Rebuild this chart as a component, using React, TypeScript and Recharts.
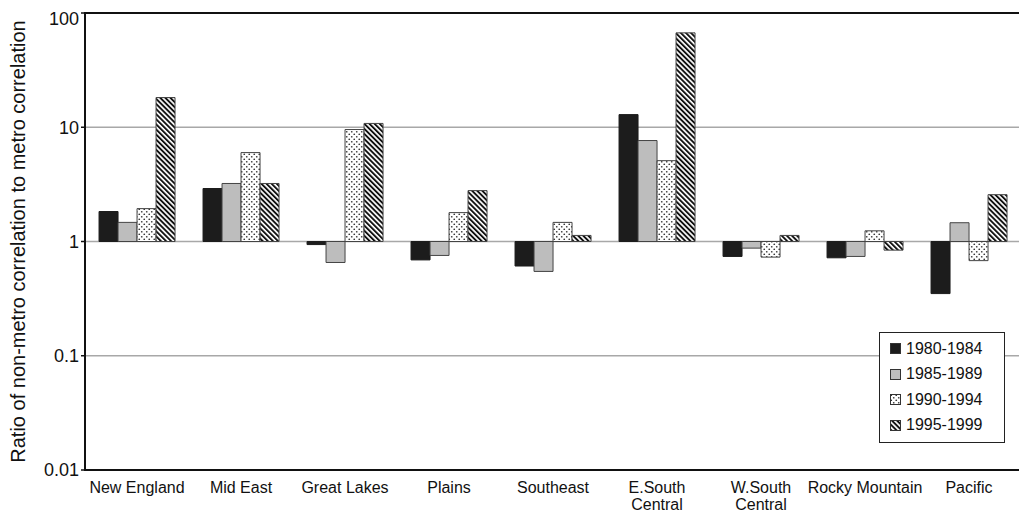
import React from "react";
import { BarChart, Bar, XAxis, YAxis, CartesianGrid, Legend } from "recharts";

const categories = [
  "New England",
  "Mid East",
  "Great Lakes",
  "Plains",
  "Southeast",
  "E.South\nCentral",
  "W.South\nCentral",
  "Rocky Mountain",
  "Pacific",
];
const s1980 = [1.83, 2.91, 0.94, 0.69, 0.61, 12.9, 0.74, 0.72, 0.35];
const s1985 = [1.47, 3.22, 0.655, 0.755, 0.547, 7.65, 0.875, 0.74, 1.46];
const s1990 = [1.94, 6.0, 9.55, 1.79, 1.47, 5.1, 0.73, 1.24, 0.68];
const s1995 = [18.2, 3.22, 10.8, 2.79, 1.13, 67, 1.13, 0.84, 2.57];
const seriesNames = ["1980-1984", "1985-1989", "1990-1994", "1995-1999"];
const yTicks = [0.01, 0.1, 1, 10, 100];
const baseline = 1;

const seriesValues = [s1980, s1985, s1990, s1995];
const seriesKeys = ["a", "b", "c", "d"];
const fills = ["#1c1c1c", "#bdbdbd", "url(#dots)", "url(#hatch)"];
const strokes = ["#1c1c1c", "#444", "#444", "#444"];

const data = categories.map((c, i) => {
  const row: any = { name: c };
  seriesKeys.forEach((k, j) => {
    row[k] = [baseline, seriesValues[j][i]];
  });
  return row;
});

const FONT = "'Liberation Sans', Arial, Helvetica, sans-serif";

const XTick = (props: any) => {
  const { x, y, payload } = props;
  const lines = String(payload.value).split("\n");
  return (
    <text x={x} y={y} textAnchor="middle" fontSize={16} fontFamily={FONT} fill="#111">
      {lines.map((l, i) => (
        <tspan key={i} x={x} dy={i === 0 ? 15 : 17}>
          {l}
        </tspan>
      ))}
    </text>
  );
};

const Swatch = ({ i }: { i: number }) => (
  <svg width={11} height={11} style={{ display: "block" }}>
    <rect x={0.5} y={0.5} width={10} height={10} fill={fills[i]} stroke="#333" strokeWidth={1} />
  </svg>
);

const LegendBox = () => (
  <div
    style={{
      border: "1.5px solid #222",
      background: "#fff",
      padding: "3px 0 4px 10px",
      fontFamily: FONT,
      fontSize: 16,
      color: "#111",
      boxSizing: "border-box",
      width: 126,
    }}
  >
    {seriesNames.map((n, i) => (
      <div key={n} style={{ display: "flex", alignItems: "center", height: 25.5 }}>
        <Swatch i={i} />
        <span style={{ marginLeft: 5 }}>{n}</span>
      </div>
    ))}
  </div>
);

export default function App() {
  return (
    <div style={{ position: "relative", width: 1019, height: 508, fontFamily: FONT }}>
      <svg width={0} height={0} style={{ position: "absolute" }}>
        <defs>
          <pattern id="dots" width={5} height={5} patternUnits="userSpaceOnUse">
            <rect width={5} height={5} fill="#fff" />
            <circle cx={1.25} cy={1.25} r={0.85} fill="#333" />
            <circle cx={3.75} cy={3.75} r={0.85} fill="#333" />
          </pattern>
          <pattern
            id="hatch"
            width={3.6}
            height={3.6}
            patternUnits="userSpaceOnUse"
            patternTransform="rotate(-45)"
          >
            <rect width={3.6} height={3.6} fill="#fff" />
            <rect width={1.9} height={3.6} fill="#111" />
          </pattern>
        </defs>
      </svg>
      <BarChart
        width={1019}
        height={508}
        data={data}
        margin={{ top: 5, right: 6, bottom: 6, left: 0 }}
        barCategoryGap="13.5%"
        barGap={0}
      >
        <CartesianGrid vertical={false} stroke="#a8a8a8" strokeWidth={1.5} />
        <XAxis
          dataKey="name"
          height={40}
          interval={0}
          tick={<XTick />}
          tickLine={false}
          axisLine={{ stroke: "#111", strokeWidth: 2 }}
        />
        <YAxis
          scale="log"
          domain={[0.01, 100]}
          ticks={yTicks}
          allowDataOverflow
          width={77}
          tickSize={4}
          tick={{ fontSize: 18, fill: "#111", fontFamily: FONT }}
          tickLine={{ stroke: "#111", strokeWidth: 1.5 }}
          axisLine={{ stroke: "#111", strokeWidth: 2 }}
          tickFormatter={(v: number) => String(v)}
          label={{
            content: (p: any) => {
              const vb = p.viewBox || {};
              const cy = (vb.y ?? 0) + (vb.height ?? 0) / 2;
              return (
                <text
                  x={17}
                  y={cy}
                  transform={`rotate(-90 17 ${cy})`}
                  textAnchor="middle"
                  fontSize={20}
                  fontFamily={FONT}
                  fill="#111"
                >
                  Ratio of non-metro correlation to metro correlation
                </text>
              );
            },
          }}
        />
        <Legend
          layout="horizontal"
          verticalAlign="middle"
          align="center"
          content={() => <LegendBox />}
          wrapperStyle={{ position: "absolute", left: 871, top: 324, width: 126 }}
        />
        {seriesKeys.map((k, i) => (
          <Bar
            key={k}
            dataKey={k}
            name={seriesNames[i]}
            fill={fills[i]}
            stroke={strokes[i]}
            strokeWidth={1}
            isAnimationActive={false}
          />
        ))}
      </BarChart>
      <div
        style={{
          position: "absolute",
          left: 76,
          top: 4,
          width: 938,
          height: 459,
          border: "2px solid #111",
          boxSizing: "border-box",
          pointerEvents: "none",
        }}
      />
    </div>
  );
}
